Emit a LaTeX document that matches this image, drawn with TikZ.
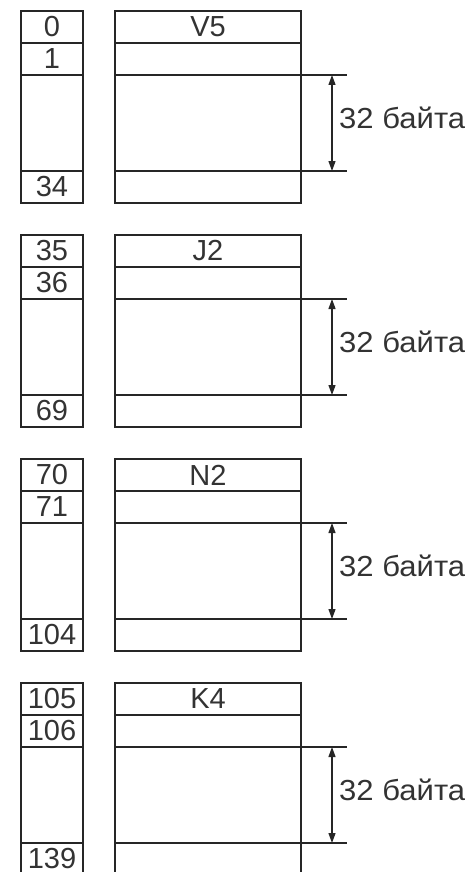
\documentclass[tikz,border=0pt]{standalone}
\usepackage{fontspec}
\setmainfont{Liberation Sans}
\usetikzlibrary{arrows.meta}
\begin{document}
\begin{tikzpicture}[x=1pt,y=-1pt,
  rule/.style={draw=black!85, line width=1.2pt},
  cell/.style={rule, inner sep=0pt, outer sep=0pt, anchor=north west,
    font=\fontsize{29}{29}\selectfont, text=black!80},
  numcell/.style={cell, minimum width=62pt},
  datacell/.style={cell, minimum width=186pt},
  dimline/.style={draw=black!85, line width=1.2pt,
    {Triangle[length=10pt,width=7pt]}-{Triangle[length=10pt,width=7pt]}},
  sizelabel/.style={inner sep=0pt, anchor=west, text=black!80,
    font=\fontsize{29}{29}\selectfont, xscale=1.07}
]
\path[fill=white, use as bounding box] (0,0) rectangle (471,872);
\foreach \T/\a/\b/\c/\name [count=\i] in
  {11/0/1/34/V5, 235/35/36/69/J2, 459/70/71/104/N2, 683/105/106/139/K4}{
  % byte numbers
  \node[numcell, minimum height=32pt] (L\i a) at (21,\T) {\a};
  \node[numcell, minimum height=32pt] (L\i b) at (21,\T+32) {\b};
  \node[numcell, minimum height=96pt] (L\i m) at (21,\T+64) {};
  \node[numcell, minimum height=32pt] (L\i z) at (21,\T+160) {\c};
  % record fields
  \node[datacell, minimum height=32pt] (R\i a) at (115,\T) {\name};
  \node[datacell, minimum height=32pt] (R\i b) at (115,\T+32) {};
  \node[datacell, minimum height=96pt] (R\i m) at (115,\T+64) {};
  \node[datacell, minimum height=32pt] (R\i z) at (115,\T+160) {};
  % dimension: extension lines and arrow
  \coordinate (E\i t) at (347,\T+64);
  \coordinate (E\i b) at (347,\T+160);
  \coordinate (A\i t) at (332,\T+64);
  \coordinate (A\i b) at (332,\T+160);
  \draw[rule] (R\i m.north east) -- (E\i t);
  \draw[rule] (R\i m.south east) -- (E\i b);
  \draw[dimline] (A\i t) -- (A\i b);
  \node[sizelabel] (S\i) at (339,\T+107) {32 байта};
}
\end{tikzpicture}
\end{document}
